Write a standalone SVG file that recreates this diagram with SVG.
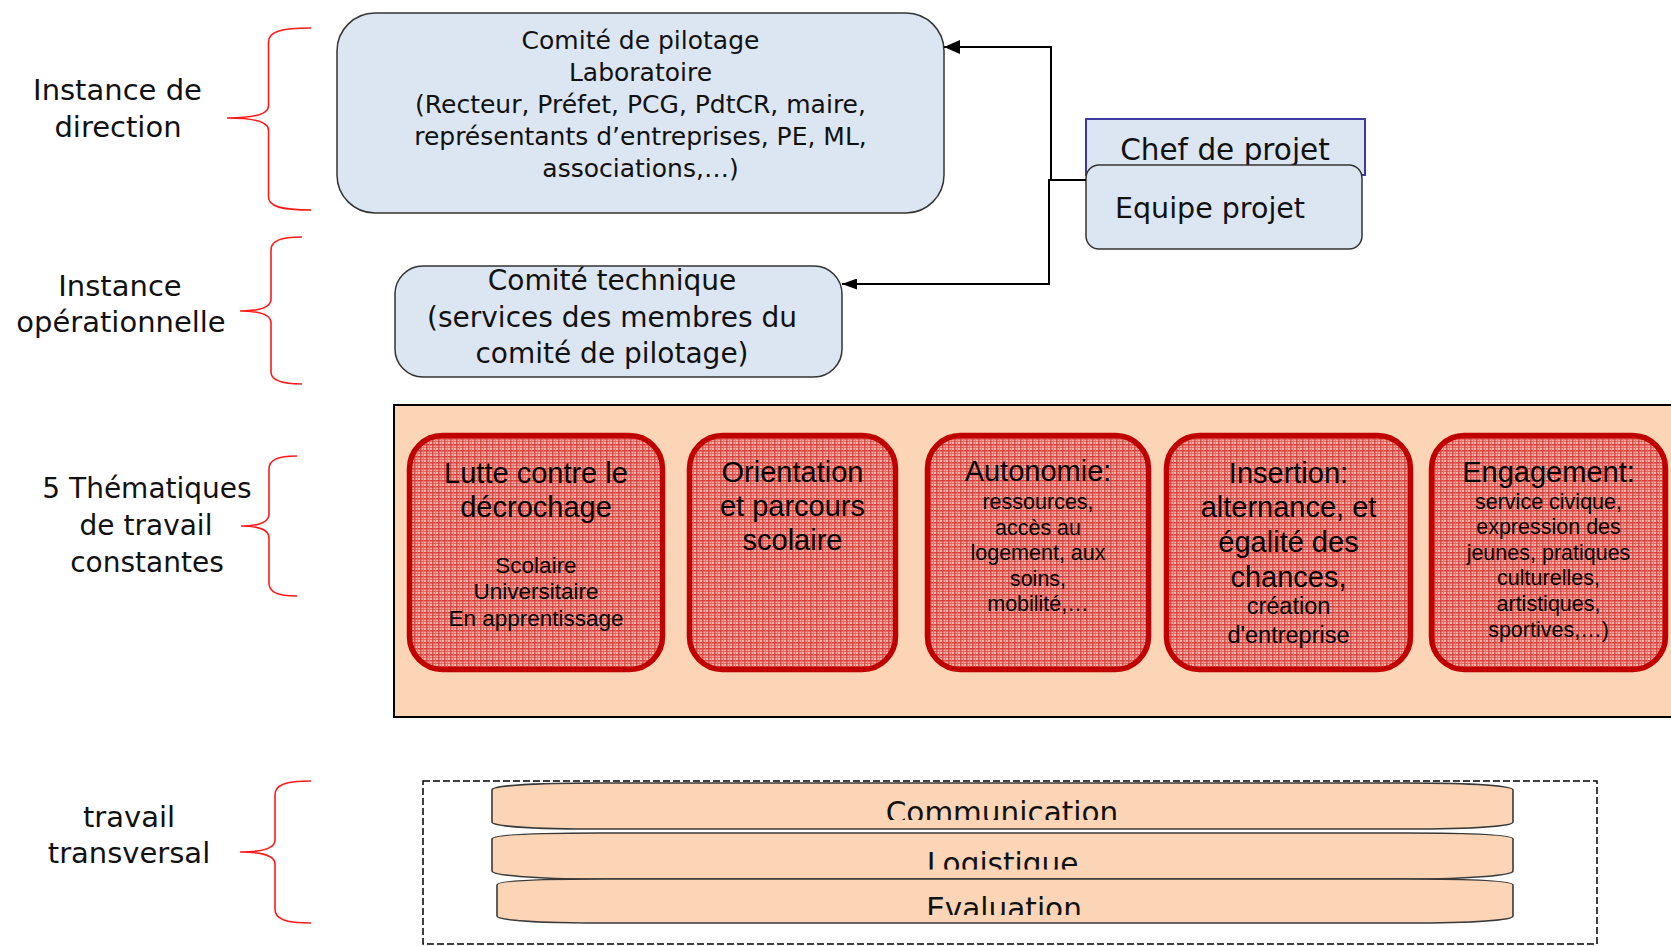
<svg xmlns="http://www.w3.org/2000/svg" width="1671" height="946" viewBox="0 0 1671 946">
<style>
.lbl{font-family:"DejaVu Sans","Liberation Sans",sans-serif;fill:#111;text-anchor:middle}
.th{font-family:"Liberation Sans",Arial,sans-serif;fill:#000;text-anchor:middle}
.brace{fill:none;stroke:#ff1a1a;stroke-width:1.6}
.blue{fill:#dce6f2;stroke:#333;stroke-width:1.5}
.red{fill:url(#plaid);stroke:#c00000;stroke-width:5.5}
.scroll{fill:#fbd5b5;stroke:#3a3a3a;stroke-width:1.6}
.conn{fill:none;stroke:#000;stroke-width:2}
</style>
<defs>
<pattern id="plaid" width="6" height="6" patternUnits="userSpaceOnUse">
<rect width="6" height="6" fill="#f2aca3"/>
<rect width="6" height="1.5" fill="#d9403b"/>
<rect y="3" width="6" height="1" fill="#e46a63"/>
<rect width="1.5" height="6" fill="#d9403b" opacity="0.85"/>
<rect x="3" width="1" height="6" fill="#e46a63" opacity="0.85"/>
<rect x="4.5" y="4.5" width="1" height="1" fill="#fbd6cf"/>
</pattern>
<marker id="arrA" markerUnits="userSpaceOnUse" markerWidth="16" markerHeight="14" refX="16" refY="7" orient="auto"><path d="M0,0 L16,7 L0,14 Z" fill="#000"/></marker>
<marker id="arrB" markerUnits="userSpaceOnUse" markerWidth="15" markerHeight="11" refX="15" refY="5.5" orient="auto"><path d="M0,0 L15,5.5 L0,11 Z" fill="#000"/></marker>
<clipPath id="c1"><rect x="480" y="780" width="1040" height="40"/></clipPath>
<clipPath id="c2"><rect x="480" y="830" width="1040" height="39.5"/></clipPath>
<clipPath id="c3"><rect x="480" y="876" width="1040" height="39"/></clipPath>
</defs>
<rect width="1671" height="946" fill="#fff"/>

<g id="labels">
<path class="brace" d="M311,28 C280,28 268.5,32 268.5,42 L268.5,106 C268.5,114 255,118 227,118 C255,118 268.5,122 268.5,130 L268.5,197 C268.5,206 280,210 311,210"/>
<text class="lbl" font-size="29" x="117.5" y="100">Instance de</text>
<text class="lbl" font-size="29" x="118" y="137">direction</text>
<path class="brace" d="M302,237 C280,237 271,241 271,250 L271,299 C271,307 260,311 240,311 C260,311 271,315 271,323 L271,372 C271,380 280,384 302,384"/>
<text class="lbl" font-size="29" x="120" y="296">Instance</text>
<text class="lbl" font-size="29" x="121" y="332">opérationnelle</text>
<path class="brace" d="M297,456 C277,456 269,460 269,469 L269,514 C269,522 259,526 241,526 C259,526 269,530 269,538 L269,583 C269,592 277,596 297,596"/>
<text class="lbl" font-size="28" x="147" y="498">5 Thématiques</text>
<text class="lbl" font-size="28" x="146" y="535">de travail</text>
<text class="lbl" font-size="28" x="147" y="572">constantes</text>
<path class="brace" d="M311,781 C285,781 275,785 275,795 L275,840 C275,848 262,852 240,852 C262,852 275,856 275,864 L275,909 C275,919 285,923 311,923"/>
<text class="lbl" font-size="29" x="129" y="827">travail</text>
<text class="lbl" font-size="29" x="129" y="863">transversal</text>
</g>

<g id="comite-pilotage">
<rect class="blue" x="337" y="13" width="607" height="200" rx="38"/>
<text class="lbl" font-size="25" x="640.5" y="49">Comité de pilotage</text>
<text class="lbl" font-size="25" x="640.5" y="81">Laboratoire</text>
<text class="lbl" font-size="25" x="640.5" y="113">(Recteur, Préfet, PCG, PdtCR, maire,</text>
<text class="lbl" font-size="25" x="640.5" y="145">représentants d’entreprises, PE, ML,</text>
<text class="lbl" font-size="25" x="640.5" y="177">associations,…)</text>
</g>

<g id="comite-technique">
<rect class="blue" x="395" y="266" width="447" height="111" rx="28"/>
<text class="lbl" font-size="28" x="612" y="290">Comité technique</text>
<text class="lbl" font-size="28" x="612" y="327">(services des membres du</text>
<text class="lbl" font-size="28" x="612" y="363">comité de pilotage)</text>
</g>

<g id="chef-projet">
<rect x="1086" y="119" width="279" height="56" fill="#dce6f2" stroke="#3c3ca0" stroke-width="2"/>
<text class="lbl" font-size="29.5" x="1225" y="160">Chef de projet</text>
</g>

<g id="equipe-projet">
<rect class="blue" x="1086" y="165" width="276" height="84" rx="13"/>
<text class="lbl" font-size="28.5" x="1115" y="218" style="text-anchor:start">Equipe projet</text>
</g>

<g id="connectors">
<path class="conn" d="M1051,180 L1051,47 L944,47" marker-end="url(#arrA)"/>
<path class="conn" d="M1086,180 L1049,180 L1049,284 L842,284" marker-end="url(#arrB)"/>
</g>

<g id="thematiques">
<rect x="394" y="405" width="1300" height="312" fill="#fbd5b5" stroke="#000" stroke-width="2"/>
</g>

<g id="lutte">
<rect class="red" x="409.5" y="435.5" width="253" height="234" rx="33"/>
<text class="th" font-size="29" x="536" y="483">Lutte contre le</text>
<text class="th" font-size="29" x="536" y="517">décrochage</text>
<text class="th" font-size="22.5" x="536" y="573">Scolaire</text>
<text class="th" font-size="22.5" x="536" y="599">Universitaire</text>
<text class="th" font-size="22.5" x="536" y="626">En apprentissage</text>
</g>

<g id="orientation">
<rect class="red" x="689.5" y="435.5" width="206" height="234" rx="33"/>
<text class="th" font-size="29" x="792.5" y="482">Orientation</text>
<text class="th" font-size="29" x="792.5" y="516">et parcours</text>
<text class="th" font-size="29" x="792.5" y="550">scolaire</text>
</g>

<g id="autonomie">
<rect class="red" x="927.5" y="435.5" width="221" height="234" rx="33"/>
<text class="th" font-size="29" x="1038" y="481">Autonomie:</text>
<text class="th" font-size="21.5" x="1038" y="509">ressources,</text>
<text class="th" font-size="21.5" x="1038" y="534.5">accès au</text>
<text class="th" font-size="21.5" x="1038" y="560">logement, aux</text>
<text class="th" font-size="21.5" x="1038" y="586">soins,</text>
<text class="th" font-size="21.5" x="1038" y="611">mobilité,…</text>
</g>

<g id="insertion">
<rect class="red" x="1166.5" y="435.5" width="244" height="234" rx="33"/>
<text class="th" font-size="29" x="1288.5" y="483">Insertion:</text>
<text class="th" font-size="29" x="1288.5" y="517">alternance, et</text>
<text class="th" font-size="29" x="1288.5" y="552">égalité des</text>
<text class="th" font-size="29" x="1288.5" y="587">chances,</text>
<text class="th" font-size="23.5" x="1288.5" y="614">création</text>
<text class="th" font-size="23.5" x="1288.5" y="643">d'entreprise</text>
</g>

<g id="engagement">
<rect class="red" x="1431.5" y="435.5" width="234" height="234" rx="33"/>
<text class="th" font-size="29" x="1548.5" y="482">Engagement:</text>
<text class="th" font-size="21.5" x="1548.5" y="509">service civique,</text>
<text class="th" font-size="21.5" x="1548.5" y="534">expression des</text>
<text class="th" font-size="21.5" x="1548.5" y="560">jeunes, pratiques</text>
<text class="th" font-size="21.5" x="1548.5" y="585">culturelles,</text>
<text class="th" font-size="21.5" x="1548.5" y="611">artistiques,</text>
<text class="th" font-size="21.5" x="1548.5" y="637">sportives,…)</text>
</g>

<g id="transversal">
<rect x="423" y="781" width="1174" height="163" fill="none" stroke="#000" stroke-width="1.5" stroke-dasharray="7 3"/>
</g>

<g id="communication">
<path class="scroll" d="M492,790 C492,786 530,783 600,783 L1405,783 C1475,783 1513,786 1513,790 L1513,822 C1513,826 1475,829 1405,829 L600,829 C530,829 492,826 492,822 Z"/>
<text class="lbl" font-size="29.5" x="1002" y="822.5" clip-path="url(#c1)">Communication</text>
</g>

<g id="logistique">
<path class="scroll" d="M492,839 C492,835 530,833 600,833 L1405,833 C1475,833 1513,835 1513,839 L1513,871 C1513,875 1475,879 1405,879 L600,879 C530,879 492,875 492,871 Z"/>
<text class="lbl" font-size="29.5" x="1002.5" y="873.5" clip-path="url(#c2)">Logistique</text>
</g>

<g id="evaluation">
<path class="scroll" d="M497,885 C497,881 535,879 605,879 L1405,879 C1475,879 1513,881 1513,885 L1513,916 C1513,920 1475,923 1405,923 L605,923 C535,923 497,920 497,916 Z"/>
<text class="lbl" font-size="29.5" x="1004" y="918.5" clip-path="url(#c3)">Evaluation</text>
</g>
</svg>
